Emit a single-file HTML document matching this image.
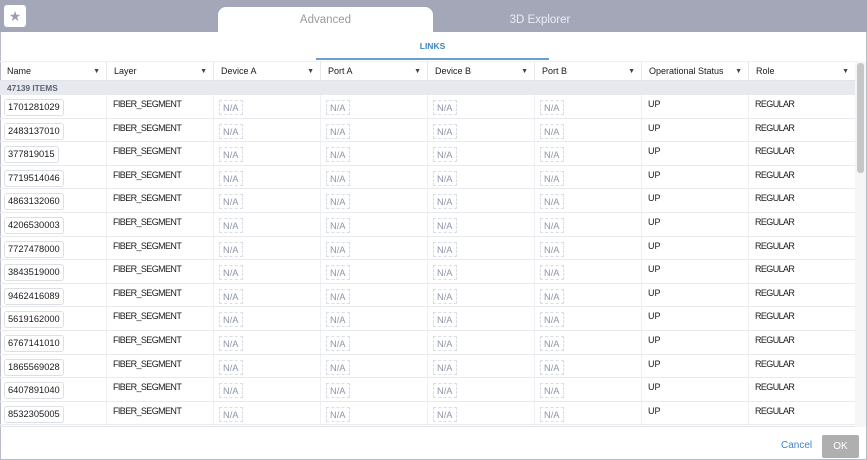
<!DOCTYPE html>
<html><head><meta charset="utf-8">
<style>
*{box-sizing:border-box;margin:0;padding:0}
html,body{width:867px;height:460px;overflow:hidden;background:#fff;font-family:"Liberation Sans",sans-serif;}
.frame{position:absolute;left:0;top:0;width:867px;height:460px;border-left:1px solid #b9bcc6;border-right:1px solid #b9bcc6;border-bottom:1px solid #b9bcc6;}
.top{position:absolute;left:0;top:0;width:867px;height:32px;background:#a3a7b7;}
.star{position:absolute;left:4px;top:5px;width:22px;height:22px;background:#fff;border-radius:3px;color:#9a9eae;font-size:14px;line-height:22px;text-align:center;}
.tab{position:absolute;left:218px;top:7px;width:215px;height:26px;background:#fff;border-radius:8px 8px 0 0;color:#9b9b9b;font-size:11.5px;line-height:27px;text-align:center;}
.tab2{position:absolute;left:470px;top:7px;width:140px;height:25px;color:#eceef3;font-size:11.5px;line-height:27px;text-align:center;}
.links{position:absolute;left:316px;top:38px;width:233px;text-align:center;color:#3f84c4;font-size:8.5px;font-weight:bold;line-height:16px;}
.uline{position:absolute;left:316px;top:58px;width:233px;height:2px;background:#6b9fd0;}
.hdr{position:absolute;left:0;top:61px;width:855px;height:20px;border-top:1px solid #eef0f3;border-bottom:1px solid #e2e4e9;}
.hc{position:absolute;top:0;height:19px;border-left:1px solid #e6e8ec;font-size:9px;color:#1a1a1a;line-height:19px;padding-left:7px;}
.hc .ar{position:absolute;right:6px;top:0;font-size:7px;color:#444;}
.grp{position:absolute;left:0;top:81px;width:855px;height:14px;background:#e8e9ee;color:#5c6477;font-size:8.3px;font-weight:bold;line-height:14px;padding-left:7px;}
.body{position:absolute;left:0;top:95px;width:855px;height:332px;overflow:hidden;border-bottom:1px solid #e2e4e9;}
.row{position:relative;height:23.6px;border-bottom:1px solid #e8eaee;}
.c{position:absolute;top:0;height:23px;border-left:1px solid #eef0f3;font-size:9px;color:#1a1a1a;}
.nm{display:inline-block;margin:4px 0 0 4px;height:17px;border:1px solid #dcdfe5;border-radius:3px;padding:0 3px;line-height:15px;font-size:9.3px;color:#1a1a1a;}
.tx{display:block;padding:4px 0 0 6px;line-height:10px;}
.cap{letter-spacing:-0.6px;}
.na{display:inline-block;margin:5px 0 0 5px;height:15px;border:1px dashed #dadde3;padding:0 3px;line-height:14px;font-size:9.3px;color:#8c95a8;}
.sb{position:absolute;left:857px;top:63px;width:7px;height:110px;background:#c6c6c8;border-radius:3px;}
.track{position:absolute;left:855px;top:61px;width:11px;height:366px;background:#f6f6f7;}
.cancel{position:absolute;left:781px;top:439px;color:#3f84c4;font-size:10px;line-height:14px;}
.ok{position:absolute;left:822px;top:435px;width:37px;height:23px;background:#afafaf;color:#fff;font-size:10px;line-height:23px;text-align:center;border-radius:2px;}
</style></head><body>
<div class="frame"></div>
<div class="top"><div class="star">★</div></div>
<div class="tab">Advanced</div>
<div class="tab2">3D Explorer</div>
<div class="links">LINKS</div>
<div class="uline"></div>
<div class="track"></div>
<div class="sb"></div>
<div class="hdr">
<div class="hc" style="left:0;width:106px;border-left:none">Name<span class="ar">▼</span></div>
<div class="hc" style="left:106px;width:107px">Layer<span class="ar">▼</span></div>
<div class="hc" style="left:213px;width:107px">Device A<span class="ar">▼</span></div>
<div class="hc" style="left:320px;width:107px">Port A<span class="ar">▼</span></div>
<div class="hc" style="left:427px;width:107px">Device B<span class="ar">▼</span></div>
<div class="hc" style="left:534px;width:107px">Port B<span class="ar">▼</span></div>
<div class="hc" style="left:641px;width:107px">Operational Status<span class="ar">▼</span></div>
<div class="hc" style="left:748px;width:107px">Role<span class="ar">▼</span></div>
</div>
<div class="grp">47139 ITEMS</div>
<div class="body">
<div class="row"><div class="c" style="left:0;width:106px;border-left:none"><span class="nm">1701281029</span></div><div class="c" style="left:106px;width:107px"><span class="tx cap">FIBER_SEGMENT</span></div><div class="c" style="left:213px;width:107px"><span class="na">N/A</span></div><div class="c" style="left:320px;width:107px"><span class="na">N/A</span></div><div class="c" style="left:427px;width:107px"><span class="na">N/A</span></div><div class="c" style="left:534px;width:107px"><span class="na">N/A</span></div><div class="c" style="left:641px;width:107px"><span class="tx">UP</span></div><div class="c" style="left:748px;width:107px"><span class="tx cap">REGULAR</span></div></div>
<div class="row"><div class="c" style="left:0;width:106px;border-left:none"><span class="nm">2483137010</span></div><div class="c" style="left:106px;width:107px"><span class="tx cap">FIBER_SEGMENT</span></div><div class="c" style="left:213px;width:107px"><span class="na">N/A</span></div><div class="c" style="left:320px;width:107px"><span class="na">N/A</span></div><div class="c" style="left:427px;width:107px"><span class="na">N/A</span></div><div class="c" style="left:534px;width:107px"><span class="na">N/A</span></div><div class="c" style="left:641px;width:107px"><span class="tx">UP</span></div><div class="c" style="left:748px;width:107px"><span class="tx cap">REGULAR</span></div></div>
<div class="row"><div class="c" style="left:0;width:106px;border-left:none"><span class="nm">377819015</span></div><div class="c" style="left:106px;width:107px"><span class="tx cap">FIBER_SEGMENT</span></div><div class="c" style="left:213px;width:107px"><span class="na">N/A</span></div><div class="c" style="left:320px;width:107px"><span class="na">N/A</span></div><div class="c" style="left:427px;width:107px"><span class="na">N/A</span></div><div class="c" style="left:534px;width:107px"><span class="na">N/A</span></div><div class="c" style="left:641px;width:107px"><span class="tx">UP</span></div><div class="c" style="left:748px;width:107px"><span class="tx cap">REGULAR</span></div></div>
<div class="row"><div class="c" style="left:0;width:106px;border-left:none"><span class="nm">7719514046</span></div><div class="c" style="left:106px;width:107px"><span class="tx cap">FIBER_SEGMENT</span></div><div class="c" style="left:213px;width:107px"><span class="na">N/A</span></div><div class="c" style="left:320px;width:107px"><span class="na">N/A</span></div><div class="c" style="left:427px;width:107px"><span class="na">N/A</span></div><div class="c" style="left:534px;width:107px"><span class="na">N/A</span></div><div class="c" style="left:641px;width:107px"><span class="tx">UP</span></div><div class="c" style="left:748px;width:107px"><span class="tx cap">REGULAR</span></div></div>
<div class="row"><div class="c" style="left:0;width:106px;border-left:none"><span class="nm">4863132060</span></div><div class="c" style="left:106px;width:107px"><span class="tx cap">FIBER_SEGMENT</span></div><div class="c" style="left:213px;width:107px"><span class="na">N/A</span></div><div class="c" style="left:320px;width:107px"><span class="na">N/A</span></div><div class="c" style="left:427px;width:107px"><span class="na">N/A</span></div><div class="c" style="left:534px;width:107px"><span class="na">N/A</span></div><div class="c" style="left:641px;width:107px"><span class="tx">UP</span></div><div class="c" style="left:748px;width:107px"><span class="tx cap">REGULAR</span></div></div>
<div class="row"><div class="c" style="left:0;width:106px;border-left:none"><span class="nm">4206530003</span></div><div class="c" style="left:106px;width:107px"><span class="tx cap">FIBER_SEGMENT</span></div><div class="c" style="left:213px;width:107px"><span class="na">N/A</span></div><div class="c" style="left:320px;width:107px"><span class="na">N/A</span></div><div class="c" style="left:427px;width:107px"><span class="na">N/A</span></div><div class="c" style="left:534px;width:107px"><span class="na">N/A</span></div><div class="c" style="left:641px;width:107px"><span class="tx">UP</span></div><div class="c" style="left:748px;width:107px"><span class="tx cap">REGULAR</span></div></div>
<div class="row"><div class="c" style="left:0;width:106px;border-left:none"><span class="nm">7727478000</span></div><div class="c" style="left:106px;width:107px"><span class="tx cap">FIBER_SEGMENT</span></div><div class="c" style="left:213px;width:107px"><span class="na">N/A</span></div><div class="c" style="left:320px;width:107px"><span class="na">N/A</span></div><div class="c" style="left:427px;width:107px"><span class="na">N/A</span></div><div class="c" style="left:534px;width:107px"><span class="na">N/A</span></div><div class="c" style="left:641px;width:107px"><span class="tx">UP</span></div><div class="c" style="left:748px;width:107px"><span class="tx cap">REGULAR</span></div></div>
<div class="row"><div class="c" style="left:0;width:106px;border-left:none"><span class="nm">3843519000</span></div><div class="c" style="left:106px;width:107px"><span class="tx cap">FIBER_SEGMENT</span></div><div class="c" style="left:213px;width:107px"><span class="na">N/A</span></div><div class="c" style="left:320px;width:107px"><span class="na">N/A</span></div><div class="c" style="left:427px;width:107px"><span class="na">N/A</span></div><div class="c" style="left:534px;width:107px"><span class="na">N/A</span></div><div class="c" style="left:641px;width:107px"><span class="tx">UP</span></div><div class="c" style="left:748px;width:107px"><span class="tx cap">REGULAR</span></div></div>
<div class="row"><div class="c" style="left:0;width:106px;border-left:none"><span class="nm">9462416089</span></div><div class="c" style="left:106px;width:107px"><span class="tx cap">FIBER_SEGMENT</span></div><div class="c" style="left:213px;width:107px"><span class="na">N/A</span></div><div class="c" style="left:320px;width:107px"><span class="na">N/A</span></div><div class="c" style="left:427px;width:107px"><span class="na">N/A</span></div><div class="c" style="left:534px;width:107px"><span class="na">N/A</span></div><div class="c" style="left:641px;width:107px"><span class="tx">UP</span></div><div class="c" style="left:748px;width:107px"><span class="tx cap">REGULAR</span></div></div>
<div class="row"><div class="c" style="left:0;width:106px;border-left:none"><span class="nm">5619162000</span></div><div class="c" style="left:106px;width:107px"><span class="tx cap">FIBER_SEGMENT</span></div><div class="c" style="left:213px;width:107px"><span class="na">N/A</span></div><div class="c" style="left:320px;width:107px"><span class="na">N/A</span></div><div class="c" style="left:427px;width:107px"><span class="na">N/A</span></div><div class="c" style="left:534px;width:107px"><span class="na">N/A</span></div><div class="c" style="left:641px;width:107px"><span class="tx">UP</span></div><div class="c" style="left:748px;width:107px"><span class="tx cap">REGULAR</span></div></div>
<div class="row"><div class="c" style="left:0;width:106px;border-left:none"><span class="nm">6767141010</span></div><div class="c" style="left:106px;width:107px"><span class="tx cap">FIBER_SEGMENT</span></div><div class="c" style="left:213px;width:107px"><span class="na">N/A</span></div><div class="c" style="left:320px;width:107px"><span class="na">N/A</span></div><div class="c" style="left:427px;width:107px"><span class="na">N/A</span></div><div class="c" style="left:534px;width:107px"><span class="na">N/A</span></div><div class="c" style="left:641px;width:107px"><span class="tx">UP</span></div><div class="c" style="left:748px;width:107px"><span class="tx cap">REGULAR</span></div></div>
<div class="row"><div class="c" style="left:0;width:106px;border-left:none"><span class="nm">1865569028</span></div><div class="c" style="left:106px;width:107px"><span class="tx cap">FIBER_SEGMENT</span></div><div class="c" style="left:213px;width:107px"><span class="na">N/A</span></div><div class="c" style="left:320px;width:107px"><span class="na">N/A</span></div><div class="c" style="left:427px;width:107px"><span class="na">N/A</span></div><div class="c" style="left:534px;width:107px"><span class="na">N/A</span></div><div class="c" style="left:641px;width:107px"><span class="tx">UP</span></div><div class="c" style="left:748px;width:107px"><span class="tx cap">REGULAR</span></div></div>
<div class="row"><div class="c" style="left:0;width:106px;border-left:none"><span class="nm">6407891040</span></div><div class="c" style="left:106px;width:107px"><span class="tx cap">FIBER_SEGMENT</span></div><div class="c" style="left:213px;width:107px"><span class="na">N/A</span></div><div class="c" style="left:320px;width:107px"><span class="na">N/A</span></div><div class="c" style="left:427px;width:107px"><span class="na">N/A</span></div><div class="c" style="left:534px;width:107px"><span class="na">N/A</span></div><div class="c" style="left:641px;width:107px"><span class="tx">UP</span></div><div class="c" style="left:748px;width:107px"><span class="tx cap">REGULAR</span></div></div>
<div class="row"><div class="c" style="left:0;width:106px;border-left:none"><span class="nm">8532305005</span></div><div class="c" style="left:106px;width:107px"><span class="tx cap">FIBER_SEGMENT</span></div><div class="c" style="left:213px;width:107px"><span class="na">N/A</span></div><div class="c" style="left:320px;width:107px"><span class="na">N/A</span></div><div class="c" style="left:427px;width:107px"><span class="na">N/A</span></div><div class="c" style="left:534px;width:107px"><span class="na">N/A</span></div><div class="c" style="left:641px;width:107px"><span class="tx">UP</span></div><div class="c" style="left:748px;width:107px"><span class="tx cap">REGULAR</span></div></div>
<div class="row"><div class="c" style="left:0;width:106px;border-left:none"></div><div class="c" style="left:106px;width:107px"></div><div class="c" style="left:213px;width:107px"></div><div class="c" style="left:320px;width:107px"></div><div class="c" style="left:427px;width:107px"></div><div class="c" style="left:534px;width:107px"></div><div class="c" style="left:641px;width:107px"></div><div class="c" style="left:748px;width:107px"></div></div>
</div>
<div class="cancel">Cancel</div>
<div class="ok">OK</div>
</body></html>
